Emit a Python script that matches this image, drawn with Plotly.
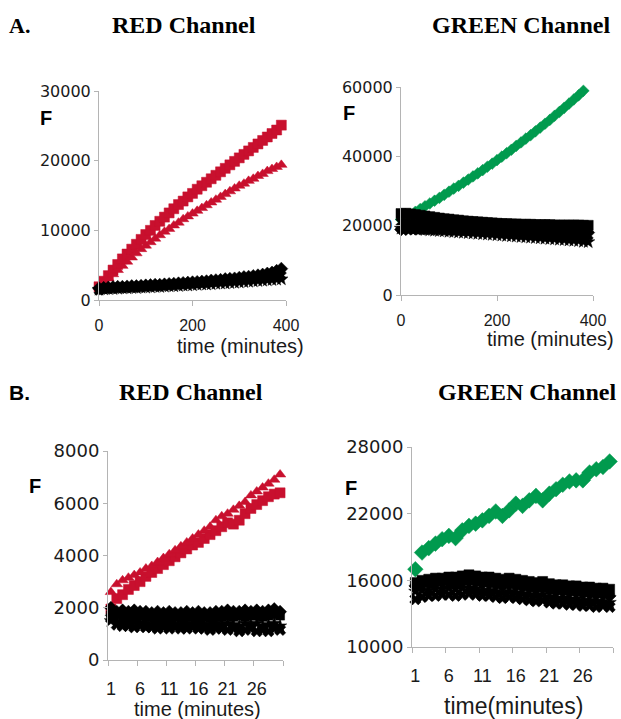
import plotly.graph_objects as go

# ---------------- DATA ----------------
a_time = list(range(0, 400, 10))
a_xticks = [0, 200, 400]
a_red_yticks = [0, 10000, 20000, 30000]
a_green_yticks = [0, 20000, 40000, 60000]

a_red_squares = [1900, 2700, 3500, 4300, 5100, 5900, 6600, 7300, 8000, 8700,
                 9400, 10000, 10700, 11300, 11900, 12500, 13100, 13700, 14200, 14800,
                 15300, 15900, 16400, 16900, 17400, 17900, 18400, 18900, 19400, 19900,
                 20400, 20900, 21400, 21900, 22400, 22900, 23400, 23900, 24400, 25100]
a_red_triangles = [1900, 2500, 3100, 3700, 4300, 4900, 5500, 6100, 6700, 7300,
                   7800, 8300, 8800, 9300, 9800, 10200, 10700, 11100, 11600, 12000,
                   12400, 12800, 13200, 13600, 14000, 14400, 14800, 15200, 15600, 16000,
                   16400, 16700, 17100, 17400, 17800, 18100, 18500, 18800, 19100, 19400]
a_red_black_diamonds = [1700, 1750, 1800, 1850, 1900, 1900, 1950, 2000, 2000, 2050,
                        2100, 2150, 2200, 2200, 2250, 2300, 2350, 2400, 2450, 2500,
                        2550, 2600, 2650, 2700, 2800, 2850, 2900, 3000, 3050, 3100,
                        3200, 3300, 3350, 3450, 3550, 3650, 3800, 3950, 4200, 4500]
a_red_black_stars = [1500, 1550, 1600, 1600, 1650, 1700, 1700, 1750, 1750, 1800,
                     1800, 1850, 1900, 1900, 1950, 2000, 2000, 2050, 2100, 2100,
                     2150, 2200, 2250, 2250, 2300, 2350, 2400, 2400, 2450, 2500,
                     2550, 2600, 2650, 2700, 2750, 2800, 2850, 2900, 2950, 3000]
a_red_black_x = [1400, 1600, 1650, 1700, 1750, 1750, 1800, 1850, 1850, 1900,
                 1950, 2000, 2000, 2050, 2100, 2150, 2200, 2250, 2250, 2300,
                 2350, 2400, 2450, 2500, 2550, 2600, 2650, 2700, 2750, 2800,
                 2850, 2900, 2950, 3000, 3100, 3150, 3200, 3300, 3400, 3500]

a_green_diamonds = [21800, 22500, 23200, 24000, 24800, 25600, 26400, 27200, 28000, 28900,
                    29800, 30700, 31500, 32400, 33300, 34200, 35100, 36000, 37000, 37900,
                    38900, 39900, 40900, 41900, 43000, 44000, 45100, 46100, 47200, 48300,
                    49400, 50500, 51700, 52800, 54000, 55200, 56400, 57600, 58900, 60200]
a_green_black_squares = [23500, 23600, 23400, 23200, 23000, 22800, 22600, 22400, 22200, 22000,
                         21900, 21700, 21600, 21400, 21300, 21200, 21100, 21000, 20900, 20800,
                         20700, 20600, 20600, 20500, 20500, 20400, 20400, 20400, 20300, 20300,
                         20300, 20300, 20200, 20200, 20200, 20200, 20200, 20200, 20100, 20100]
a_green_black_diamonds = [18900, 19000, 19100, 19100, 19200, 19200, 19200, 19100, 19100, 19100,
                          19000, 19000, 19000, 18900, 18900, 18900, 18800, 18800, 18800, 18700,
                          18700, 18700, 18600, 18600, 18600, 18500, 18500, 18500, 18400, 18400,
                          18400, 18300, 18300, 18300, 18200, 18200, 18200, 18100, 18100, 18000]
a_green_black_x = [21000, 21000, 20900, 20800, 20700, 20600, 20500, 20400, 20300, 20200,
                   20100, 20000, 19900, 19800, 19700, 19600, 19500, 19400, 19300, 19200,
                   19100, 19000, 18900, 18800, 18700, 18600, 18500, 18400, 18300, 18200,
                   18100, 18000, 17900, 17800, 17700, 17600, 17500, 17400, 17300, 17200]
a_green_black_stars = [19200, 19200, 19100, 19000, 18900, 18800, 18700, 18600, 18500, 18400,
                       18300, 18200, 18100, 18000, 17900, 17800, 17700, 17600, 17500, 17400,
                       17300, 17200, 17100, 17000, 16900, 16800, 16700, 16600, 16500, 16400,
                       16300, 16200, 16100, 16000, 15900, 15800, 15700, 15600, 15400, 15300]

b_time = list(range(1, 31))
b_tickvals = [1, 6, 11, 16, 21, 26]
b_ticklabels = ["1", "6", "11", "16", "21", "26"]
b_red_yticks = [0, 2000, 4000, 6000, 8000]
b_green_yticks = [10000, 16000, 22000, 28000]

b_red_triangles = [2600, 2900, 3050, 3150, 3250, 3350, 3500, 3600, 3750, 3900,
                   4050, 4200, 4350, 4500, 4650, 4800, 4950, 5100, 5350, 5500,
                   5600, 5750, 5900, 6050, 6300, 6450, 6600, 6750, 6900, 7100]
b_red_squares = [1950, 2350, 2500, 2700, 2850, 3000, 3200, 3350, 3500, 3650,
                 3800, 3950, 4100, 4250, 4400, 4500, 4650, 4800, 4950, 5100,
                 5250, 5200, 5350, 5600, 5800, 5950, 6100, 6250, 6350, 6400]
b_red_black_diamonds = [2000, 1850, 1900, 1850, 1900, 1850, 1850, 1800, 1850, 1800,
                        1850, 1800, 1800, 1850, 1800, 1850, 1800, 1800, 1850, 1850,
                        1900, 1850, 1850, 1900, 1850, 1900, 1850, 1900, 1950, 1850]
b_red_black_squares = [1700, 1750, 1700, 1700, 1650, 1700, 1650, 1650, 1600, 1650,
                       1600, 1650, 1600, 1650, 1650, 1600, 1650, 1600, 1650, 1650,
                       1700, 1650, 1700, 1650, 1700, 1700, 1650, 1700, 1750, 1700]
b_red_black_stars = [1500, 1450, 1450, 1400, 1450, 1400, 1400, 1350, 1400, 1350,
                     1400, 1350, 1350, 1400, 1350, 1400, 1350, 1350, 1400, 1350,
                     1400, 1350, 1300, 1400, 1350, 1400, 1300, 1350, 1400, 1300]
b_red_black_x = [1600, 1350, 1300, 1300, 1250, 1300, 1250, 1250, 1200, 1250,
                 1200, 1250, 1200, 1200, 1250, 1200, 1200, 1150, 1200, 1200,
                 1150, 1200, 1100, 1150, 1200, 1100, 1150, 1100, 1200, 1150]

b_green_diamonds = [17000, 18500, 18900, 19300, 19700, 20000, 19800, 20500, 20900, 21100,
                    21400, 21800, 22200, 21800, 22300, 22900, 22700, 23200, 23600, 23200,
                    23800, 24200, 24600, 24900, 25000, 25000, 25700, 26000, 26200, 26700]
b_green_black_squares = [15800, 16000, 16100, 16200, 16200, 16300, 16300, 16400, 16500, 16400,
                         16300, 16300, 16200, 16100, 16200, 16100, 16000, 15900, 15800, 15900,
                         15700, 15600, 15600, 15500, 15500, 15400, 15400, 15300, 15300, 15200]
b_green_black_diamonds = [15500, 15600, 15700, 15700, 15800, 15800, 15700, 15800, 15900, 15800,
                          15700, 15700, 15600, 15500, 15600, 15500, 15400, 15300, 15200, 15300,
                          15100, 15000, 15000, 14900, 14900, 14800, 14800, 14700, 14700, 14600]
b_green_black_stars = [15000, 15100, 15100, 15200, 15200, 15300, 15200, 15300, 15300, 15200,
                       15100, 15100, 15000, 14900, 15000, 14900, 14800, 14700, 14600, 14700,
                       14500, 14400, 14400, 14300, 14300, 14200, 14200, 14100, 14100, 14000]
b_green_black_x = [14300, 14500, 14600, 14600, 14700, 14700, 14600, 14700, 14800, 14700,
                   14600, 14600, 14500, 14400, 14500, 14400, 14300, 14200, 14100, 14200,
                   14000, 13900, 13900, 13800, 13800, 13700, 13700, 13600, 13700, 13600]

RED = "#C8102E"
GREEN = "#009A4E"
BLACK = "#000000"
AXIS = "#B4B4B4"
TXT = "#1a1a1a"

W, H = 621, 719


def px(x):
    return x / W


def py(y):
    return 1 - y / H


fig = go.Figure()


def add(x, y, symbol, color, size, xa, ya):
    fig.add_trace(go.Scatter(
        x=x, y=y, mode="markers", xaxis=xa, yaxis=ya, cliponaxis=False,
        marker=dict(symbol=symbol, color=color, size=size,
                    line=dict(color=color, width=0.5)),
        showlegend=False, hoverinfo="skip"))


# Panel A, RED channel
add(a_time, a_red_squares, "square", RED, 10, "x", "y")
add(a_time, a_red_triangles, "triangle-up", RED, 10, "x", "y")
add(a_time, a_red_black_x, "x", BLACK, 9, "x", "y")
add(a_time, a_red_black_stars, "star", BLACK, 10, "x", "y")
add(a_time, a_red_black_diamonds, "diamond", BLACK, 10, "x", "y")

# Panel A, GREEN channel
add(a_time, a_green_diamonds, "diamond", GREEN, 9, "x2", "y2")
add(a_time, a_green_black_stars, "star", BLACK, 10, "x2", "y2")
add(a_time, a_green_black_x, "x", BLACK, 9, "x2", "y2")
add(a_time, a_green_black_diamonds, "diamond", BLACK, 10, "x2", "y2")
add(a_time, a_green_black_squares, "square", BLACK, 10, "x2", "y2")

# Panel B, RED channel
add(b_time, b_red_squares, "square", RED, 10, "x3", "y3")
add(b_time, b_red_triangles, "triangle-up", RED, 10, "x3", "y3")
add(b_time, b_red_black_x, "x", BLACK, 10, "x3", "y3")
add(b_time, b_red_black_stars, "star", BLACK, 10, "x3", "y3")
add(b_time, b_red_black_squares, "square", BLACK, 9, "x3", "y3")
add(b_time, b_red_black_diamonds, "diamond", BLACK, 10, "x3", "y3")

# Panel B, GREEN channel
add(b_time, b_green_diamonds, "diamond", GREEN, 12, "x4", "y4")
add(b_time, b_green_black_x, "x", BLACK, 10, "x4", "y4")
add(b_time, b_green_black_stars, "star", BLACK, 10, "x4", "y4")
add(b_time, b_green_black_diamonds, "diamond", BLACK, 10, "x4", "y4")
add(b_time, b_green_black_squares, "square", BLACK, 10, "x4", "y4")

common_axis = dict(showgrid=False, zeroline=False, showline=True, linecolor=AXIS,
                   linewidth=1, ticks="outside", tickcolor=AXIS, tickwidth=1,
                   fixedrange=True, automargin=False)

yfontA = dict(family="DejaVu Sans", size=16, color=TXT)
yfontB = dict(family="DejaVu Sans", size=18, color=TXT)
xfontA = dict(family="Liberation Sans, Arial", size=16, color=TXT)
xfontB = dict(family="Liberation Sans, Arial", size=18, color=TXT)

b_minor = [0.5, 5.5, 10.5, 15.5, 20.5, 25.5, 30.5]


def labels(vals):
    return [str(v) for v in vals]


fig.update_layout(
    width=W, height=H, autosize=False,
    margin=dict(l=0, r=0, t=0, b=0, pad=0, autoexpand=False),
    paper_bgcolor="white", plot_bgcolor="white",
    xaxis=dict(common_axis, domain=[px(99), px(286)], range=[0, 400],
               tickvals=a_xticks, ticktext=labels(a_xticks), ticklen=5,
               tickfont=xfontA, ticklabelstandoff=6, anchor="y"),
    yaxis=dict(common_axis, domain=[py(300), py(91)], range=[0, 30000],
               tickvals=a_red_yticks, ticktext=labels(a_red_yticks), ticklen=4,
               tickfont=yfontA, anchor="x"),
    xaxis2=dict(common_axis, domain=[px(401), px(593)], range=[0, 400],
                tickvals=a_xticks, ticktext=labels(a_xticks), ticklen=5,
                tickfont=xfontA, ticklabelstandoff=6, anchor="y2"),
    yaxis2=dict(common_axis, domain=[py(295), py(87)], range=[0, 60000],
                tickvals=a_green_yticks, ticktext=labels(a_green_yticks), ticklen=4,
                tickfont=yfontA, anchor="x2"),
    xaxis3=dict(common_axis, domain=[px(108), px(283)], range=[0.5, 30.5],
                tickvals=b_tickvals, ticktext=b_ticklabels, ticklen=0,
                tickfont=xfontB, ticklabelstandoff=12,
                minor=dict(tickvals=b_minor, ticks="outside", ticklen=5,
                           tickcolor=AXIS, showgrid=False),
                anchor="y3"),
    yaxis3=dict(common_axis, domain=[py(660), py(451)], range=[0, 8000],
                tickvals=b_red_yticks, ticktext=labels(b_red_yticks), ticklen=4,
                tickfont=yfontB, anchor="x3"),
    xaxis4=dict(common_axis, domain=[px(412), px(613)], range=[0.5, 30.5],
                tickvals=b_tickvals, ticktext=b_ticklabels, ticklen=0,
                tickfont=xfontB, ticklabelstandoff=12,
                minor=dict(tickvals=b_minor, ticks="outside", ticklen=5,
                           tickcolor=AXIS, showgrid=False),
                anchor="y4"),
    yaxis4=dict(common_axis, domain=[py(647), py(447)], range=[10000, 28000],
                tickvals=b_green_yticks, ticktext=labels(b_green_yticks), ticklen=4,
                tickfont=yfontB, anchor="x4"),
)

serif_bold = dict(family="Liberation Serif, Times New Roman", size=24, color=BLACK)
sans_bold = dict(family="Liberation Sans, Arial", size=20, color=BLACK)
axis_title = dict(family="Liberation Sans, Arial", size=20, color=TXT)


def ann(text, x, y, font, xanchor="center"):
    fig.add_annotation(text=text, x=px(x), y=py(y), xref="paper", yref="paper",
                       showarrow=False, font=font, xanchor=xanchor, yanchor="middle",
                       borderpad=0)


ann("<b>A.</b>", 8, 25, dict(serif_bold, size=22), xanchor="left")
ann("<b>RED Channel</b>", 184, 25, serif_bold)
ann("<b>GREEN Channel</b>", 521, 25, serif_bold)
ann("<b>B.</b>", 8, 392, dict(sans_bold, size=21), xanchor="left")
ann("<b>RED Channel</b>", 191, 392, serif_bold)
ann("<b>GREEN Channel</b>", 527, 392, serif_bold)

ann("<b>F</b>", 46, 118, sans_bold)
ann("<b>F</b>", 349, 113, sans_bold)
ann("<b>F</b>", 35, 486, sans_bold)
ann("<b>F</b>", 351, 488, sans_bold)

ann("time (minutes)", 240, 346, axis_title)
ann("time (minutes)", 550, 339, axis_title)
ann("time (minutes)", 197, 709, axis_title)
ann("time(minutes)", 513, 706, dict(axis_title, size=23))

fig.write_html("out.html", config=dict(displayModeBar=False),
               post_script="document.body.style.margin='0px';document.body.style.padding='0px';")
